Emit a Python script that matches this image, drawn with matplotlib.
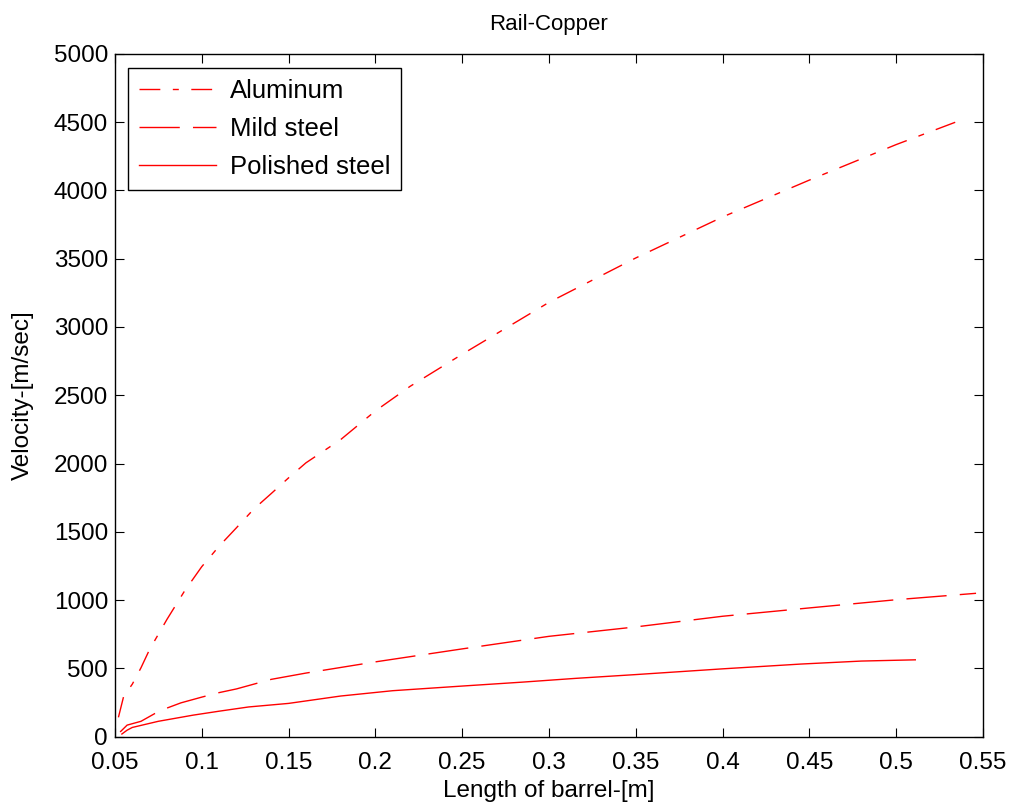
import numpy as np
import matplotlib
matplotlib.use('Agg')
import matplotlib.pyplot as plt

plt.rcParams['font.family'] = ['Liberation Sans', 'DejaVu Sans']
plt.rcParams['lines.scale_dashes'] = False

# data
x_alu = [0.052, 0.055, 0.06, 0.065, 0.07, 0.08, 0.09, 0.1, 0.11, 0.12, 0.13, 0.14,
         0.15, 0.16, 0.18, 0.2, 0.22, 0.25, 0.3, 0.35, 0.4, 0.45, 0.5, 0.54]
v_alu = [142, 295, 385, 505, 640, 860, 1065, 1245, 1395, 1530, 1667, 1780,
         1895, 2005, 2175, 2385, 2565, 2800, 3180, 3505, 3805, 4075, 4335, 4527]

x_mild = [0.053, 0.057, 0.065, 0.073, 0.08, 0.088, 0.1, 0.11, 0.12, 0.13, 0.14,
          0.16, 0.2, 0.25, 0.3, 0.35, 0.4, 0.45, 0.5, 0.546]
v_mild = [35, 85, 113, 170, 210, 248, 290, 323, 350, 385, 420,
          466, 548, 643, 735, 804, 882, 943, 1003, 1050]

x_pol = [0.054, 0.057, 0.06, 0.075, 0.095, 0.11, 0.127, 0.15, 0.18, 0.21, 0.25,
         0.285, 0.315, 0.35, 0.4, 0.445, 0.48, 0.511]
v_pol = [20, 48, 68, 113, 158, 187, 218, 244, 298, 337, 371,
         400, 427, 455, 497, 532, 554, 563]

labels = ['Aluminum', 'Mild steel', 'Polished steel']
xticks = [0.05, 0.1, 0.15, 0.2, 0.25, 0.3, 0.35, 0.4, 0.45, 0.5, 0.55]
xtick_labels = ['0.05', '0.1', '0.15', '0.2', '0.25', '0.3', '0.35', '0.4', '0.45', '0.5', '0.55']
yticks = np.arange(0, 5001, 500)

fig = plt.figure(figsize=(10.11, 8.08), dpi=100)
ax = fig.add_axes([0.1137, 0.0882, 0.8586, 0.8453])

ax.plot(x_alu, v_alu, color='red', lw=1.0, dashes=(15, 9, 4.3, 9), label=labels[0])
ax.plot(x_mild, v_mild, color='red', lw=1.0, dashes=(29, 9.5), label=labels[1])
ax.plot(x_pol, v_pol, color='red', lw=1.0, linestyle='-', label=labels[2])

ax.set_xlim(0.05, 0.55)
ax.set_ylim(0, 5000)
ax.set_xticks(xticks)
ax.set_xticklabels(xtick_labels)
ax.set_yticks(yticks)
ax.tick_params(direction='in', length=6.5, width=0.8, top=True, right=True,
               labelsize=17.5)
ax.tick_params(axis='x', pad=11)
ax.tick_params(axis='y', pad=5)
for s in ax.spines.values():
    s.set_linewidth(1.0)

ax.set_xlabel('Length of barrel-[m]', fontsize=17.5, labelpad=4)
ax.set_ylabel('Velocity-[m/sec]', fontsize=17.5, labelpad=14)
ax.set_title('Rail-Copper', fontsize=16, pad=17)

leg = ax.legend(loc='upper left', bbox_to_anchor=(0.015, 0.9795), fontsize=18.5,
                fancybox=False, edgecolor='black', framealpha=1,
                handlelength=3.0, borderaxespad=0, labelspacing=0.55,
                borderpad=0.42, handletextpad=0.55)
leg.get_frame().set_linewidth(1.0)

fig.savefig('out.png', dpi=100)
